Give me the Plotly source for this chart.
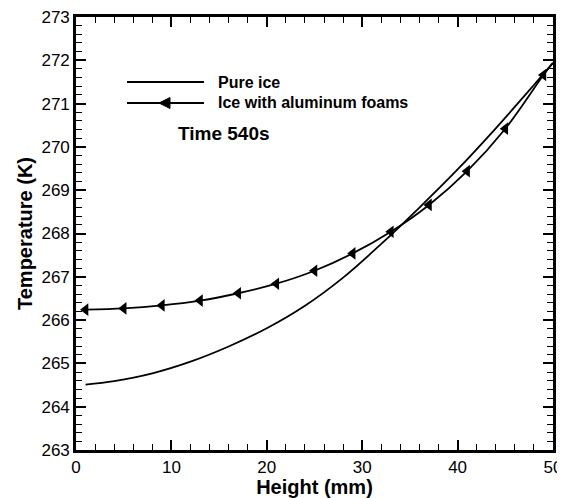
import plotly.graph_objects as go

# ---- data ----
pure_x = [1, 4, 8, 12, 16, 20, 24, 28, 32, 36, 40, 44, 48, 50]
pure_t = [264.51, 264.59, 264.77, 265.04, 265.39, 265.81, 266.33, 266.98, 267.76, 268.60, 269.48, 270.43, 271.43, 271.94]

foam_x = [1, 5, 9, 13, 17, 21, 25, 29, 33, 37, 41, 45, 49, 50]
foam_t = [266.24, 266.27, 266.34, 266.45, 266.62, 266.84, 267.14, 267.54, 268.04, 268.66, 269.44, 270.42, 271.66, 271.94]
foam_marked = [True] * 13 + [False]

x_ticks = [0, 10, 20, 30, 40, 50]
y_ticks = [263, 264, 265, 266, 267, 268, 269, 270, 271, 272, 273]

series_names = ["Pure ice", "Ice with aluminum foams"]
note_text = "Time 540s"

# page body has an 8px default margin -> work in screen pixels, shifted
OFF = 8
TOP_PIX = 17   # screen y of the plot-area top
W, H = 565 - OFF, 498 - OFF
ML, MT = 76 - OFF, TOP_PIX - OFF
MR = W - (553 - OFF)
MB = H - (450 - OFF)
PW, PH = W - ML - MR, H - MT - MB


def px(xpix):
    return (xpix - OFF - ML) / PW


def py(ypix):
    return (H - MB - (ypix - OFF)) / PH


FONT = "Liberation Sans, Arial, sans-serif"

fig = go.Figure()
fig.add_trace(go.Scatter(
    x=pure_x, y=pure_t, mode="lines", name=series_names[0],
    line=dict(color="black", width=1.8, shape="spline"),
    showlegend=False,
))
fig.add_trace(go.Scatter(
    x=foam_x, y=foam_t, mode="lines", name=series_names[1],
    line=dict(color="black", width=1.8, shape="spline"),
    showlegend=False,
))
fig.add_trace(go.Scatter(
    x=[x for x, m in zip(foam_x, foam_marked) if m],
    y=[t for t, m in zip(foam_t, foam_marked) if m],
    mode="markers", name=series_names[1],
    marker=dict(symbol="triangle-left", size=11, color="black"),
    showlegend=False, cliponaxis=False,
))

axis_common = dict(
    showline=True, linecolor="black", linewidth=2.6, mirror="allticks",
    ticks="inside", ticklen=10, tickwidth=2.4, tickcolor="black",
    showgrid=False, zeroline=False, automargin=False,
    ticklabeloverflow="allow",
    tickfont=dict(family=FONT, size=17, color="black"),
)

fig.update_xaxes(
    range=[0, 50], tickvals=x_ticks, ticktext=[str(v) for v in x_ticks],
    minor=dict(ticks="inside", ticklen=6, tickwidth=1.3, tickcolor="black", dtick=2, showgrid=False),
    title=dict(text="<b>Height (mm)</b>", font=dict(family=FONT, size=20, color="black"), standoff=4),
    **axis_common,
)
fig.update_yaxes(
    range=[263, 273], tickvals=y_ticks, ticktext=[str(v) for v in y_ticks],
    minor=dict(ticks="inside", ticklen=6, tickwidth=1.3, tickcolor="black", dtick=0.2, showgrid=False),
    title=dict(text="<b>Temperature (K)</b>", font=dict(family=FONT, size=20, color="black"), standoff=4),
    **axis_common,
)

# ---- legend (drawn as layout decoration) ----
shapes = [
    dict(type="line", xref="paper", yref="paper", x0=px(127), x1=px(204), y0=py(82), y1=py(82),
         line=dict(color="black", width=1.8)),
    dict(type="line", xref="paper", yref="paper", x0=px(127), x1=px(204), y0=py(103), y1=py(103),
         line=dict(color="black", width=1.8)),
    dict(type="path", xref="paper", yref="paper",
         path=f"M {px(159)} {py(103)} L {px(170)} {py(97.5)} L {px(170)} {py(108.5)} Z",
         fillcolor="black", line=dict(color="black", width=1)),
]
annotations = [
    dict(x=px(216), y=py(82), xref="paper", yref="paper", text=f"<b>{series_names[0]}</b>",
         showarrow=False, xanchor="left", yanchor="middle", font=dict(family=FONT, size=16, color="black")),
    dict(x=px(216), y=py(103), xref="paper", yref="paper", text=f"<b>{series_names[1]}</b>",
         showarrow=False, xanchor="left", yanchor="middle", font=dict(family=FONT, size=16, color="black")),
    dict(x=px(176), y=py(133), xref="paper", yref="paper", text=f"<b>{note_text}</b>",
         showarrow=False, xanchor="left", yanchor="middle", font=dict(family=FONT, size=19, color="black")),
]

fig.update_layout(
    width=W, height=H,
    margin=dict(l=ML, r=MR, t=MT, b=MB),
    paper_bgcolor="white", plot_bgcolor="white",
    shapes=shapes, annotations=annotations,
    showlegend=False,
)

fig.write_html("out.html")
